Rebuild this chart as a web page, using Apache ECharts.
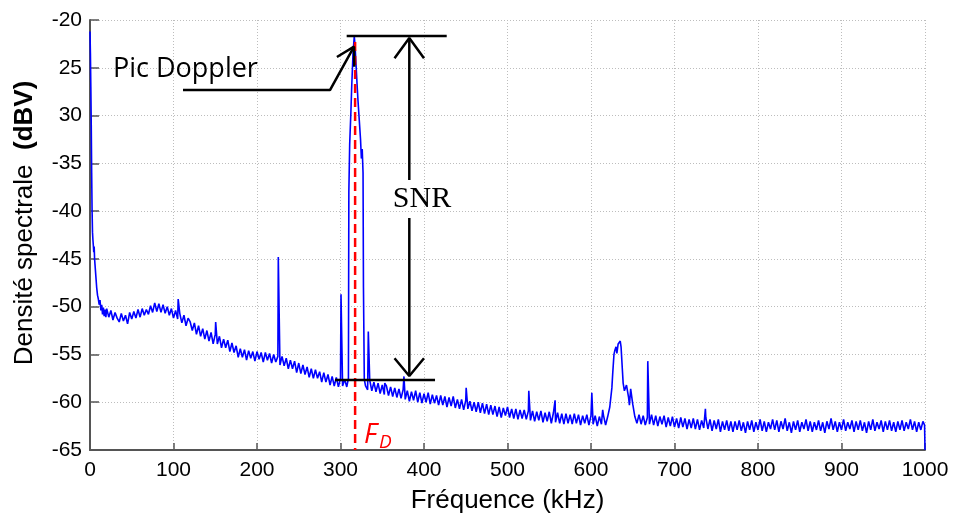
<!DOCTYPE html>
<html><head><meta charset="utf-8">
<script src="https://cdn.jsdelivr.net/npm/echarts@6/dist/echarts.min.js"></script>
<style>html,body{margin:0;padding:0;background:#fff}#c{width:954px;height:520px}</style>
</head><body><div id="c"></div>
<script>
// ---- Data ----
const xTicks = [0,100,200,300,400,500,600,700,800,900,1000];
const yTickValues = [-65,-60,-55,-50,-45,-40,-35,-30,-25,-20];
const yTickLabels = ['-65','-60','-55','-50','-45','-40','-35','30','25','-20'];

// spectrum sampled every 2.5 kHz from 20 kHz to 1000 kHz (dBV)
const baseStart = 20, baseStep = 2.5;
const baseDbv = [
-50.2,-51.1,-50.4,-51.4,-50.6,-51.2,-51.6,-50.7,-51.5,-50.9,-51.8,-50.6,-51.3,-50.5,-51.2,-50.3,-51.1,-50.2,-50.9,-50.3,
-50.8,-49.9,-50.6,-49.6,-50.5,-49.7,-50.6,-49.8,-50.7,-50.0,-50.9,-50.2,-51.2,-50.4,-51.3,-50.7,-51.7,-50.9,-52.0,-51.2,
-51.6,-52.5,-51.7,-52.9,-52.0,-53.1,-52.3,-53.4,-52.5,-53.6,-52.7,-53.9,-52.9,-53.9,-53.1,-54.3,-53.4,-54.3,-53.5,-54.7,
-53.8,-54.8,-54.1,-55.3,-54.4,-55.3,-54.5,-55.6,-54.6,-55.4,-54.7,-55.7,-54.7,-55.5,-54.8,-55.8,-54.8,-55.6,-54.9,-55.9,
-55.0,-55.8,-55.2,-56.1,-55.2,-56.2,-55.4,-56.5,-55.6,-56.5,-55.7,-56.9,-55.9,-57.0,-56.1,-57.1,-56.3,-57.4,-56.5,-57.5,
-56.6,-57.5,-56.8,-57.9,-56.9,-57.9,-57.1,-58.2,-57.3,-58.3,-57.4,-58.4,-57.5,-58.3,-57.6,-58.4,-38.0,-29.5,-23.5,-22.8,
-27.0,-30.5,-34.5,-48.0,-58.3,-58.7,-57.7,-58.8,-57.9,-58.9,-58.0,-59.1,-58.2,-59.2,-58.3,-59.3,-58.4,-59.4,-58.5,-59.5,
-58.6,-59.6,-58.7,-59.7,-58.8,-59.9,-58.9,-59.8,-58.8,-60.0,-59.0,-60.1,-59.1,-60.0,-59.0,-60.2,-59.2,-60.1,-59.3,-60.3,
-59.3,-60.3,-59.4,-60.5,-59.5,-60.4,-59.4,-60.6,-59.7,-60.7,-59.7,-60.8,-59.8,-60.7,-59.9,-60.9,-60.0,-61.0,-60.0,-61.1,
-60.1,-61.2,-60.2,-61.3,-60.3,-61.3,-60.4,-61.5,-60.5,-61.6,-60.6,-61.4,-60.5,-61.6,-60.7,-61.7,-60.7,-61.8,-60.8,-61.7,
-60.8,-61.8,-60.9,-61.9,-60.9,-62.0,-61.0,-61.9,-60.9,-62.1,-61.1,-62.0,-61.0,-62.2,-61.1,-62.1,-61.1,-62.2,-61.2,-62.3,
-61.2,-62.2,-61.3,-62.3,-61.2,-62.2,-61.3,-62.4,-61.4,-62.2,-61.3,-62.4,-61.4,-62.3,-61.4,-62.5,-61.5,-62.3,-61.4,-62.4,
-61.5,-60.5,-58.5,-55.0,-54.2,-53.9,-53.6,-56.5,-58.8,-58.2,-59.5,-58.6,-60.2,-61.5,-62.2,-61.3,-62.3,-61.4,-62.4,-61.6,
-62.3,-61.3,-62.4,-61.4,-62.5,-61.5,-62.3,-61.4,-62.6,-61.6,-62.5,-61.5,-62.6,-61.7,-62.7,-61.6,-62.6,-61.7,-62.8,-61.8,
-62.7,-61.7,-62.8,-61.8,-62.9,-61.9,-62.7,-61.6,-62.8,-61.8,-63.0,-61.9,-62.8,-61.8,-63.1,-62.0,-62.9,-61.9,-63.0,-62.0,
-63.1,-62.0,-62.9,-61.9,-63.0,-62.1,-63.2,-62.0,-62.9,-61.9,-63.1,-62.1,-62.9,-61.8,-63.0,-62.0,-63.1,-62.1,-62.8,-61.8,
-62.9,-61.9,-63.1,-62.0,-62.8,-61.7,-63.0,-62.1,-63.2,-62.0,-62.9,-61.9,-63.1,-62.1,-62.8,-61.8,-63.0,-62.0,-63.1,-62.1,
-62.9,-61.9,-63.0,-62.1,-63.2,-62.0,-62.8,-61.7,-62.9,-62.0,-63.1,-62.1,-62.9,-61.8,-63.0,-62.1,-62.8,-61.9,-63.1,-62.0,
-62.9,-61.9,-63.0,-62.1,-63.2,-62.0,-62.9,-61.8,-63.0,-62.1,-62.8,-61.9,-63.1,-62.0,-62.9,-61.9,-63.0,-62.1,-63.1,-62.0,
-62.9,-61.9,-63.0,-62.1,-62.8,-61.8,-62.9,-62.0,-63.1,-62.1,-62.9,-62.0,-65.0
];

// low-frequency roll-off (kHz, dBV)
const lowFreq = [0,0.5,1,1.5,2,2.5,3,3.5,4,4.5,5,5.5,6,7,8,9,10,11,12,13,14,15,16,17,18,19];
const lowDbv  = [-21.2,-23.5,-27,-31,-36,-40,-42.2,-43.0,-43.6,-44.3,-43.7,-45.0,-45.6,-46.8,-48.0,-48.8,-49.2,-49.8,-49.3,-50.4,-49.8,-50.8,-50.1,-51.0,-50.3,-51.1];

// narrow spectral lines (kHz, dBV)
const lineFreq = [105.6,150.5,225.5,300.6,333.3,353,376,450.5,466,481,525.5,557,601,614,668,737,999.5];
const lineDbv  = [-49.2,-51.6,-44.8,-48.7,-52.6,-58.0,-57.3,-58.5,-59.9,-60.1,-58.8,-59.8,-59.0,-60.8,-55.7,-60.7,-62.4];

// Doppler peak detail (kHz, dBV)
const peakFreq = [309.5,311,313.5,316.5,318.5,321,324,326,327,328.5];
const peakDbv  = [-57.5,-33,-26.8,-21.7,-24.5,-28.5,-32.5,-33.5,-36,-57.6];

// 600 kHz region bump detail (kHz, dBV)
const bumpFreq = [626,628.5,631,633.5,636,638.5,643.5,646,648.5];
const bumpDbv  = [-57.0,-54.6,-54.9,-53.7,-54.2,-58.0,-58.0,-60.3,-58.4];

// Doppler frequency marker
const fdFreq = 317.5;
const fdRange = [-22.3, -65];

// annotation geometry in data coordinates (kHz, dBV)
const picArrow = [[111.4,-27.33],[287.4,-27.33],[316.2,-22.79]];
const picHead = [[295.7,-23.87],[316.2,-22.79],[316.5,-24.89]];
const snrTop = [[307.4,-21.67],[427.2,-21.67]];
const snrBottom = [[293.4,-57.67],[413.2,-57.67]];
const snrUp = [[382.4,-36.74],[382.4,-21.88]];
const snrUpHead = [[364.7,-24.01],[382.4,-21.88],[400.0,-24.01]];
const snrDown = [[382.4,-40.72],[382.4,-57.26]];
const snrDownHead = [[364.7,-55.4],[382.4,-57.26],[400.0,-55.4]];

// ---- Build ----
const pts = [];
baseDbv.forEach((v,i)=>pts.push([baseStart+i*baseStep, v]));
lowFreq.forEach((f,i)=>pts.push([f, lowDbv[i]]));
lineFreq.forEach((f,i)=>pts.push([f, lineDbv[i]]));
peakFreq.forEach((f,i)=>pts.push([f, peakDbv[i]]));
bumpFreq.forEach((f,i)=>pts.push([f, bumpDbv[i]]));
pts.sort((a,b)=>a[0]-b[0]);

const chart = echarts.init(document.getElementById('c'), null, {renderer:'canvas'});
const FONT = 'Liberation Sans, Arial, sans-serif';
const annot = (d)=>({type:'line', data:d, symbol:'none', silent:true, z:5,
  lineStyle:{color:'#000', width:2.5}});

chart.setOption({
  animation:false,
  backgroundColor:'#fff',
  grid:{left:90, right:29, top:20, bottom:70},
  xAxis:{type:'value', min:0, max:1000, interval:100,
    name:'Fréquence (kHz)', nameLocation:'middle', nameGap:38,
    nameTextStyle:{fontFamily:FONT, fontSize:26, color:'#000'},
    axisLine:{lineStyle:{color:'#555', width:2}},
    axisTick:{inside:true, length:7, lineStyle:{color:'#555', width:1.5}},
    axisLabel:{fontFamily:FONT, fontSize:21, color:'#000', margin:10,
      formatter:(v)=>{const i=xTicks.indexOf(v); return i>=0?String(xTicks[i]):String(v);}},
    splitLine:{show:true, lineStyle:{color:'#bdbdbd', type:[1,2], width:1}}
  },
  yAxis:{type:'value', min:-65, max:-20, interval:5,
    axisLine:{show:true, lineStyle:{color:'#555', width:2}},
    axisTick:{show:true, inside:true, length:9, lineStyle:{color:'#555', width:1.5}},
    axisLabel:{fontFamily:FONT, fontSize:21, color:'#000', margin:8,
      formatter:(v)=>{const i=yTickValues.indexOf(v); return i>=0?yTickLabels[i]:String(v);}},
    splitLine:{show:true, lineStyle:{color:'#bdbdbd', type:[1,2], width:1}}
  },
  series:[
    {type:'line', data:pts, symbol:'none', z:2, lineStyle:{color:'#0000ff', width:1.6}},
    {type:'line', data:[[fdFreq, fdRange[0]],[fdFreq, fdRange[1]]], symbol:'none', z:4, silent:true,
      lineStyle:{color:'#ff0000', width:2.5, type:[9,5]}},
    annot(picArrow), annot(picHead), annot(snrTop), annot(snrBottom),
    annot(snrUp), annot(snrUpHead), annot(snrDown), annot(snrDownHead)
  ],
  graphic:[
    {type:'text', x:113, y:69, z:10, style:{text:'Pic Doppler', fill:'#000',
      font:'27px "Open Sans", sans-serif', textAlign:'left', textVerticalAlign:'middle'}},
    {type:'text', x:422, y:199, z:10, style:{text:'SNR', fill:'#000',
      font:'30px "Liberation Serif", serif', textAlign:'center', textVerticalAlign:'middle'}},
    {type:'text', x:364, y:435, z:10, style:{text:'F', fill:'#ff0000',
      font:'italic 27px "Open Sans", sans-serif', textAlign:'left', textVerticalAlign:'middle'}},
    {type:'text', x:379, y:443, z:10, style:{text:'D', fill:'#ff0000',
      font:'italic 19px "Open Sans", sans-serif', textAlign:'left', textVerticalAlign:'middle'}},
    {type:'text', x:25, y:223, rotation:Math.PI/2, z:10, style:{
      text:'{a|Densité spectrale  }{b|(dBV)}', fill:'#000', textAlign:'center', textVerticalAlign:'middle',
      rich:{a:{fontFamily:FONT, fontSize:26, fill:'#000'}, b:{fontFamily:FONT, fontSize:26, fontWeight:'bold', fill:'#000'}}}}
  ]
});
</script></body></html>
